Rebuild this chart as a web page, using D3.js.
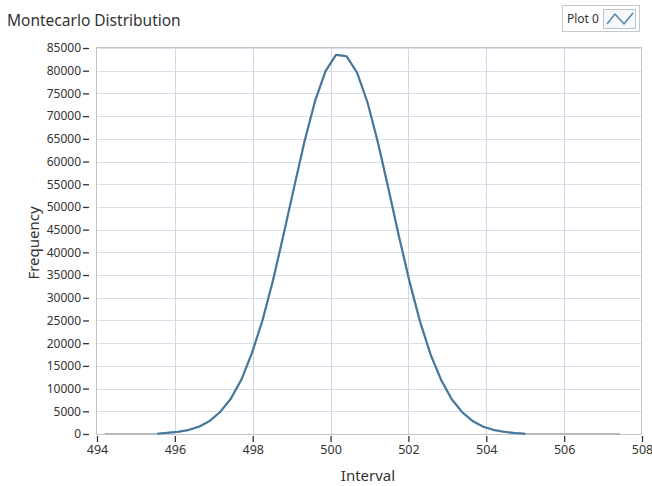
<!DOCTYPE html>
<html>
<head>
<meta charset="utf-8">
<script src="https://cdn.jsdelivr.net/npm/d3@7"></script>
<style>
  body { margin: 0; background: #fff; }
  text { font-family: "Noto Sans", "Open Sans", sans-serif; fill: #333; }
</style>
</head>
<body>
<svg id="chart" width="652" height="486"></svg>
<script>
// bin centres (Interval) and counts (Frequency)
var intervals = [494.20, 494.47, 494.74, 495.01, 495.28, 495.55, 495.82, 496.09, 496.36, 496.63,
                 496.90, 497.17, 497.44, 497.71, 497.98, 498.25, 498.52, 498.79, 499.06, 499.33,
                 499.60, 499.87, 500.14, 500.41, 500.68, 500.95, 501.22, 501.49, 501.76, 502.03,
                 502.30, 502.57, 502.84, 503.11, 503.38, 503.65, 503.92, 504.19, 504.46, 504.73,
                 505.00, 505.27, 505.54, 505.81, 506.08, 506.35, 506.62, 506.89, 507.16, 507.43];
var frequency = [0, 0, 0, 0, 0, 60, 250, 480, 900, 1650,
                 2900, 4900, 7800, 12000, 17800, 25000, 33800, 43800, 54200, 64400,
                 73300, 79900, 83500, 83200, 79600, 73000, 64100, 53900, 43400, 33500,
                 24700, 17500, 11900, 7700, 4800, 2850, 1600, 900, 470, 220,
                 60, 0, 0, 0, 0, 0, 0, 0, 0, 0];
var xTicks = [494, 496, 498, 500, 502, 504, 506, 508];
var yTicks = d3.range(0, 85001, 5000);

var svg = d3.select("#chart");
// plot area edges (px)
var plotL = 97, plotR = 642, plotT = 48, plotB = 434;

var x = d3.scaleLinear().domain([494, 508]).range([plotL, plotR]);
var y = d3.scaleLinear().domain([0, 85000]).range([plotB, plotT]);

// title
svg.append("text")
  .attr("x", 7).attr("y", 26)
  .attr("font-size", 15.5)
  .text("Montecarlo Distribution");

// legend
var lg = svg.append("g");
lg.append("rect")
  .attr("x", 562.5).attr("y", 5.5).attr("width", 77).attr("height", 26)
  .attr("fill", "#fff").attr("stroke", "#c8c8c8");
lg.append("text")
  .attr("x", 567).attr("y", 23).attr("font-size", 12)
  .text("Plot 0");
lg.append("rect")
  .attr("x", 603.5).attr("y", 9.5).attr("width", 32).attr("height", 19)
  .attr("fill", "#f6f8fa").attr("stroke", "#b8c4cc");
lg.append("path")
  .attr("d", "M607,24 L615,14 L624,24 L633,13")
  .attr("fill", "none").attr("stroke", "#4a82a8").attr("stroke-width", 1.4);

// grid
svg.append("g").selectAll("line").data(yTicks.slice(1)).enter().append("line")
  .attr("x1", plotL).attr("x2", plotR)
  .attr("y1", function(d){ return Math.round(y(d)) + 0.5; }).attr("y2", function(d){ return Math.round(y(d)) + 0.5; })
  .attr("stroke", "#dcdce8").attr("stroke-width", 1);
svg.append("g").selectAll("line").data(xTicks.slice(1, -1)).enter().append("line")
  .attr("y1", plotT - 1).attr("y2", plotB)
  .attr("x1", function(d){ return Math.round(x(d)) + 0.5; }).attr("x2", function(d){ return Math.round(x(d)) + 0.5; })
  .attr("stroke", "#d4d4e4").attr("stroke-width", 1);

// plot frame
svg.append("rect")
  .attr("x", plotL - 0.5).attr("y", plotT - 0.5).attr("width", plotR - plotL).attr("height", plotB - plotT + 1)
  .attr("fill", "none").attr("stroke", "#c4c4c8");

// y axis
var yAxis = svg.append("g")
  .attr("transform", "translate(" + (plotL - 8) + ",0)")
  .call(d3.axisLeft(y).tickValues(yTicks).tickSize(6).tickPadding(2).tickFormat(d3.format("d")));
yAxis.select(".domain").remove();
yAxis.selectAll("line").attr("stroke", "#333").attr("stroke-width", 1.3);
yAxis.selectAll("text").attr("font-size", 12).attr("font-family", "Noto Sans, sans-serif").attr("fill", "#333");

// x axis
var xAxis = svg.append("g")
  .attr("transform", "translate(0," + (plotB + 2) + ")")
  .call(d3.axisBottom(x).tickValues(xTicks).tickSize(6).tickPadding(3).tickFormat(d3.format("d")));
xAxis.select(".domain").remove();
xAxis.selectAll("line").attr("stroke", "#333").attr("stroke-width", 1.3);
xAxis.selectAll("text").attr("font-size", 12.5).attr("font-family", "Noto Sans, sans-serif").attr("fill", "#333");

// axis titles
svg.append("text")
  .attr("x", 368).attr("y", 481).attr("text-anchor", "middle").attr("font-size", 15)
  .text("Interval");
svg.append("text")
  .attr("transform", "translate(39,243) rotate(-90)")
  .attr("text-anchor", "middle").attr("font-size", 15)
  .text("Frequency");

// data line: the whole run in grey (shows where it lies on the axis),
// then the non-zero part on top in blue
var pts = intervals.map(function(v, i){ return [v, frequency[i]]; });
var line = d3.line().x(function(d){ return x(d[0]); }).y(function(d){ return y(d[1]); });

svg.append("path")
  .datum(pts)
  .attr("d", line)
  .attr("stroke", "#b4b8bc").attr("stroke-width", 2.2).attr("fill", "none");

svg.append("path")
  .datum(pts.filter(function(p){ return p[1] > 0; }))
  .attr("d", line)
  .attr("stroke", "#43789e").attr("stroke-width", 2).attr("fill", "none")
  .attr("stroke-linejoin", "round");
</script>
</body>
</html>
